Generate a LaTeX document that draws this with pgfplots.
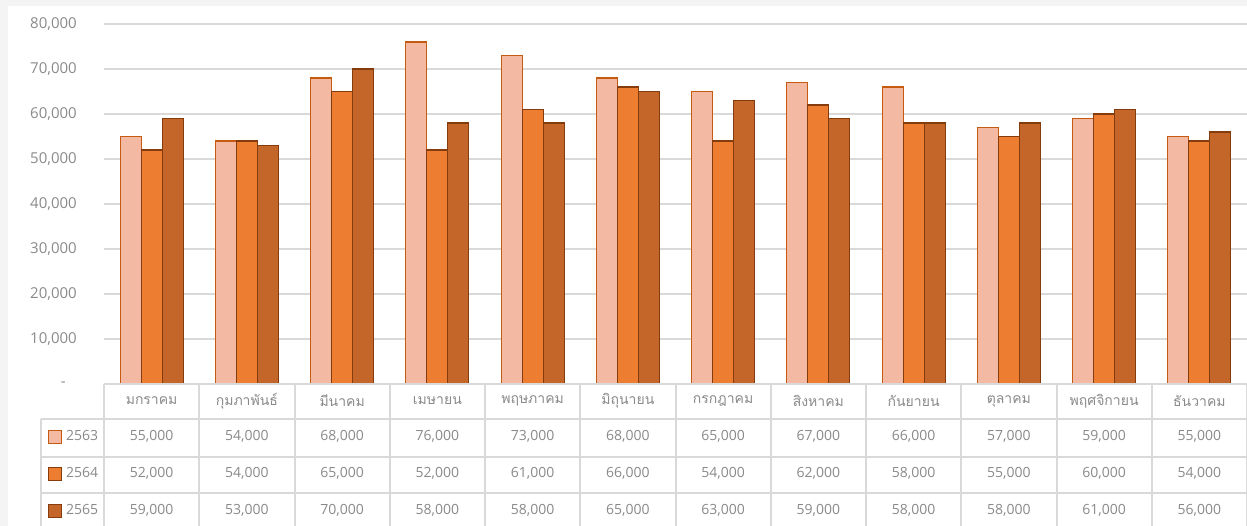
\documentclass[border=0pt]{standalone}
\usepackage{fontspec}
\setmainfont{Open Sans}
\newfontfamily\thaifont[Script=Thai]{Loma}
\usepackage{pgfplots}
\pgfplotsset{compat=1.18}
\usepackage{pgfplotstable}
\definecolor{cA}{HTML}{F4B9A2}
\definecolor{cAd}{HTML}{C55A11}
\definecolor{cB}{HTML}{ED7D31}
\definecolor{cBd}{HTML}{843C0C}
\definecolor{cC}{HTML}{C4652A}
\definecolor{cCd}{HTML}{843C0C}
\definecolor{labelgray}{HTML}{8A8A8A}
\definecolor{gridgray}{HTML}{D9D9D9}
\definecolor{bandgray}{HTML}{F4F4F4}

\pgfplotstableread{
x a b c
0 55000 52000 59000
1 54000 54000 53000
2 68000 65000 70000
3 76000 52000 58000
4 73000 61000 58000
5 68000 66000 65000
6 65000 54000 63000
7 67000 62000 59000
8 66000 58000 58000
9 57000 55000 58000
10 59000 60000 61000
11 55000 54000 56000
}\data

\newcommand{\tabnum}{\fontsize{14}{14}\selectfont\pgfmathprintnumber[fixed, precision=0, 1000 sep={,}, assume math mode=true]{\pgfplotspointmeta}}

\begin{document}
\begin{tikzpicture}
\path[use as bounding box, fill=bandgray] (-104pt,-142pt) rectangle (1143pt,384pt);
\fill[white] (-96pt,-142pt) rectangle (1143pt,378pt);
\begin{axis}[
  scale only axis, width=1143pt, height=360pt, at={(0,0)}, anchor=south west,
  xmin=-0.5, xmax=11.5, ymin=0, ymax=80000,
  clip=false,
  axis line style={draw=none},
  major tick length=0pt,
  scaled y ticks=false,
  ytick={0,10000,20000,30000,40000,50000,60000,70000,80000},
  yticklabels={{-\kern11pt},{10,000},{20,000},{30,000},{40,000},{50,000},{60,000},{70,000},{80,000}},
  yticklabel style={font=\fontsize{15}{15}\selectfont, text=labelgray, anchor=east, inner sep=0pt, xshift=-27pt},
  xtick={0,1,2,3,4,5,6,7,8,9,10,11},
  xticklabels={มกราคม,กุมภาพันธ์,มีนาคม,เมษายน,พฤษภาคม,มิถุนายน,กรกฎาคม,สิงหาคม,กันยายน,ตุลาคม,พฤศจิกายน,ธันวาคม},
  xticklabel style={font=\thaifont\fontsize{14}{14}\selectfont, text=labelgray, anchor=center, inner sep=0pt, yshift=-17pt},
  ymajorgrids, grid style={draw=gridgray, line width=1.6pt},
]
\addplot[ybar, bar width=21pt, bar shift=-21pt, fill=cA, draw=cAd, line width=1.2pt] table[x=x,y=a]{\data};
\addplot[ybar, bar width=21pt, bar shift=0pt, fill=cB, draw=cBd, line width=1.2pt] table[x=x,y=b]{\data};
\addplot[ybar, bar width=21pt, bar shift=21pt, fill=cC, draw=cCd, line width=1.2pt] table[x=x,y=c]{\data};
\pgfplotsset{tabrow/.style={draw=none, mark=none, point meta=explicit,
  nodes near coords={\tabnum},
  every node near coord/.style={text=labelgray, anchor=center, inner sep=0pt}}}
\addplot[tabrow] table[x=x, y expr=-11556, meta=a]{\data};
\addplot[tabrow] table[x=x, y expr=-19778, meta=b]{\data};
\addplot[tabrow] table[x=x, y expr=-28000, meta=c]{\data};
\end{axis}
% table grid
\begin{scope}[gridgray, line width=2pt]
\draw (0,0) -- (1143pt,0);
\draw (-63pt,-35pt) -- (1143pt,-35pt);
\draw (-63pt,-73pt) -- (1143pt,-73pt);
\draw (-63pt,-109pt) -- (1143pt,-109pt);
\draw (-63pt,-35pt) -- (-63pt,-150pt);
\foreach \i in {0,...,12} { \draw (\i*95.25pt,0) -- (\i*95.25pt,-150pt); }
\end{scope}
% legend keys in the table
\node[draw=cAd, fill=cA, line width=1.2pt, minimum size=13pt, inner sep=0pt] at (-49pt,-53pt) {};
\node[draw=cBd, fill=cB, line width=1.2pt, minimum size=13pt, inner sep=0pt] at (-49pt,-90pt) {};
\node[draw=cCd, fill=cC, line width=1.2pt, minimum size=13pt, inner sep=0pt] at (-49pt,-127pt) {};
\node[anchor=west, inner sep=0pt, text=labelgray, font=\fontsize{14}{14}\selectfont] at (-38pt,-52pt) {2563};
\node[anchor=west, inner sep=0pt, text=labelgray, font=\fontsize{14}{14}\selectfont] at (-38pt,-89pt) {2564};
\node[anchor=west, inner sep=0pt, text=labelgray, font=\fontsize{14}{14}\selectfont] at (-38pt,-126pt) {2565};
\end{tikzpicture}
\end{document}
